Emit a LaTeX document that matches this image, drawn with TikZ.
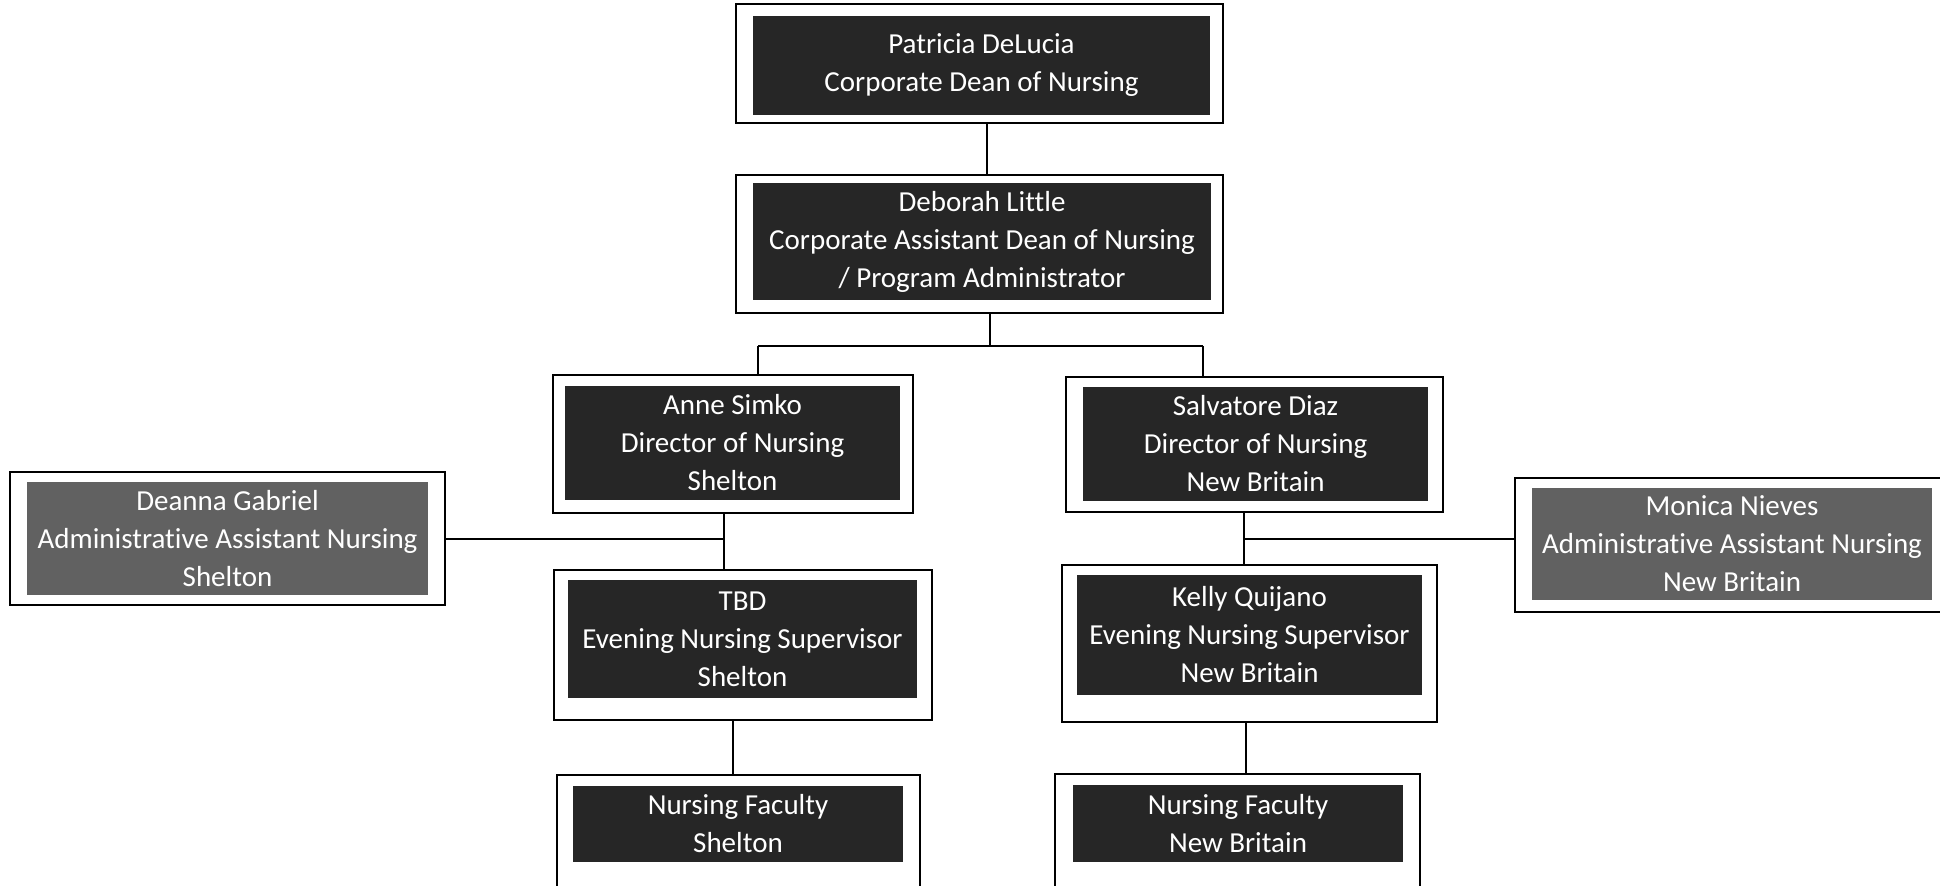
\documentclass[tikz,border=0pt]{standalone}
\usepackage{fontspec}
\setmainfont{Carlito}[Ligatures=NoCommon]
\usepackage{tikz}
\tikzstyle{frame} = [rectangle, draw=black, line width=1.2pt, fill=white, inner sep=0pt]
\tikzstyle{darkbox} = [rectangle, fill=black!85, text=white, align=center, inner sep=0pt, font=\fontsize{14.5}{19}\selectfont]
\tikzstyle{graybox} = [darkbox, fill=black!62]
\tikzstyle{line} = [line width=1.2pt]

\begin{document}
\begin{tikzpicture}[x=0.5pt,y=-0.5pt]
        \useasboundingbox (0,0) rectangle (1940,886);
        % outer frames
        \node(dean) [frame, minimum width=243.5pt, minimum height=59.5pt] at (979.5,63.5) {};
        \node(adean) [frame, minimum width=243.5pt, minimum height=69pt] at (979.5,244) {};
        \node(dir1) [frame, minimum width=180pt, minimum height=69pt] at (733,444) {};
        \node(dir2) [frame, minimum width=188.5pt, minimum height=67.5pt] at (1254.5,444.5) {};
        \node(admin1) [frame, minimum width=217.5pt, minimum height=66.5pt] at (227.5,538.5) {};
        \node(admin2) [frame, minimum width=213.5pt, minimum height=67pt] at (1728.5,545) {};
        \node(sup1) [frame, minimum width=189pt, minimum height=75pt] at (743,645) {};
        \node(sup2) [frame, minimum width=187.5pt, minimum height=78.5pt] at (1249.5,643.5) {};
        \node(fac1) [frame, minimum width=181.5pt, minimum height=60pt] at (738.5,835) {};
        \node(fac2) [frame, minimum width=182.5pt, minimum height=60.5pt] at (1237.5,834.5) {};
        % inner boxes
        \node(deantxt) [darkbox, minimum width=228.5pt, minimum height=49.5pt] at (981.5,65.5) {Patricia DeLucia\\Corporate Dean of Nursing};
        \node(adeantxt) [darkbox, minimum width=229pt, minimum height=58.5pt] at (982,241.5) {Deborah Little\\Corporate Assistant Dean of Nursing\\/ Program Administrator};
        \node(dir1txt) [darkbox, minimum width=167.5pt, minimum height=57pt] at (732.5,443) {Anne Simko\\Director of Nursing\\Shelton};
        \node(dir2txt) [darkbox, minimum width=172.5pt, minimum height=57pt] at (1255.5,444) {Salvatore Diaz\\Director of Nursing\\New Britain};
        \node(admin1txt) [graybox, minimum width=200.5pt, minimum height=56.5pt] at (227.5,538.5) {Deanna Gabriel\\Administrative Assistant Nursing\\Shelton};
        \node(admin2txt) [graybox, minimum width=200pt, minimum height=56pt] at (1732,544) {Monica Nieves\\Administrative Assistant Nursing\\New Britain};
        \node(sup1txt) [darkbox, minimum width=174.5pt, minimum height=59pt] at (742.5,639) {TBD\\Evening Nursing Supervisor\\Shelton};
        \node(sup2txt) [darkbox, minimum width=172.5pt, minimum height=60pt] at (1249.5,635) {Kelly Quijano\\Evening Nursing Supervisor\\New Britain};
        \node(fac1txt) [darkbox, minimum width=165pt, minimum height=38pt] at (738,824) {Nursing Faculty\\Shelton};
        \node(fac2txt) [darkbox, minimum width=165pt, minimum height=38.5pt] at (1238,823.5) {Nursing Faculty\\New Britain};
        % junctions
        \coordinate(c0) at (987,0);
        \coordinate(split) at (990,346);
        \coordinate(sl) at (758,346);
        \coordinate(sr) at (1203,346);
        \coordinate(jl) at (724,539);
        \coordinate(jr) at (1244,539);
        \coordinate(f1) at (733,0);
        \coordinate(f2) at (1246,0);
        \draw [line] (dean.south -| c0)--(adean.north -| c0);
        \draw [line] (adean.south -| split)--(split);
        \draw [line] (sl)--(sr);
        \draw [line] (sl)--(dir1.north -| sl);
        \draw [line] (sr)--(dir2.north -| sr);
        \draw [line] (dir1.south -| jl)--(sup1.north -| jl);
        \draw [line] (admin1.east |- jl)--(jl);
        \draw [line] (dir2.south -| jr)--(sup2.north -| jr);
        \draw [line] (jr)--(admin2.west |- jr);
        \draw [line] (sup1.south -| f1)--(fac1.north -| f1);
        \draw [line] (sup2.south -| f2)--(fac2.north -| f2);
    \end{tikzpicture}
\end{document}
